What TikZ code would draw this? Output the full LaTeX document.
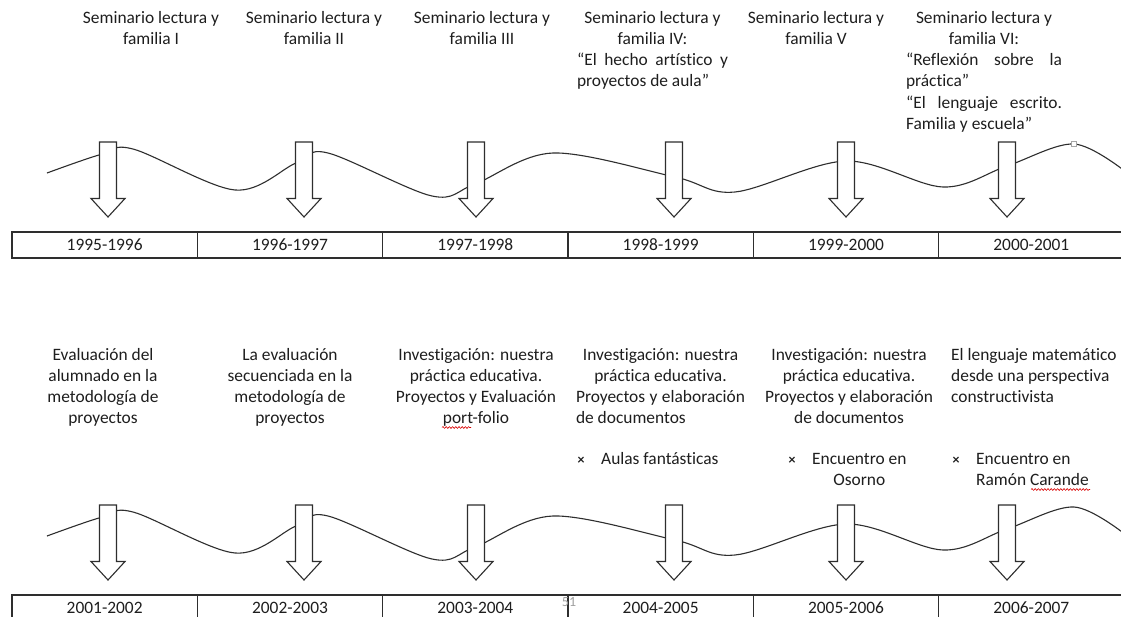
\documentclass[tikz,border=0pt]{standalone}
\usepackage{fontspec}
\setmainfont{Carlito}[Ligatures={TeX,NoCommon}]
\usetikzlibrary{decorations.pathmorphing}
\definecolor{ink}{HTML}{1E1E1E}
\definecolor{lin}{HTML}{2E2E2E}
\newcommand\xbul{\makebox[40pt][c]{\fontsize{14}{14}\selectfont\bfseries ×}}
\begin{document}
\begin{tikzpicture}[x=1pt,y=-1pt,
  txt/.style={font=\fontsize{17.4}{21.2}\selectfont, text=ink, inner sep=0pt, align=center},
  txtb/.style={font=\fontsize{17.4}{21.2}\selectfont, text=ink, inner sep=0pt},
  cell/.style={draw=lin, line width=1.3pt, minimum width=185.33pt, minimum height=26pt, inner sep=0pt, font=\fontsize{17.4}{21.2}\selectfont, text=ink},
  wavecurve/.style={draw=lin, line width=1.1pt},
  arrowline/.style={draw=lin, fill=white, line width=1.1pt, line join=miter},
  wavy/.style={draw=red!85!black, line width=0.6pt, decorate, decoration={snake, amplitude=0.9pt, segment length=3.2pt}},
  darrow/.pic={\path[arrowline] (-8.5,0) -- (-8.5,56.5) -- (-17,56.5) -- (0,75) -- (17,56.5) -- (8.5,56.5) -- (8.5,0) -- cycle;}
]
\useasboundingbox (0,0) rectangle (1121,616);
\clip (0,0) rectangle (1121,616);
\fill[white] (0,0) rectangle (1121,616);

% ---------- top row ----------
\draw[wavecurve] plot[smooth,tension=0.55] coordinates {(47,173) (99,155) (133,149) (235,190) (296,163) (328,153) (432,196) (475,184) (553,153) (675,177) (735,192) (846,161) (943,187) (1007,166) (1074,144) (1126,172)};
\node[draw=gray!70, fill=white, line width=0.5pt, minimum size=5pt, inner sep=0pt] (sq) at (1074,144) {};
\foreach \ax in {108,304,476,674,846,1007} { \pic at (\ax,142) {darrow}; }

\node[cell] (c1) at (104.67,245) {1995-1996};
\node[cell] (c2) at (290,245) {1996-1997};
\node[cell] (c3) at (475.33,245) {1997-1998};
\node[cell] (c4) at (660.67,245) {1998-1999};
\node[cell] (c5) at (846,245) {1999-2000};
\node[cell] (c6) at (1031.33,245) {2000-2001};

\node[txt, anchor=north] (t1) at (151,8.2) {\strut Seminario lectura y\\familia I};
\node[txt, anchor=north] (t2) at (314,8.2) {\strut Seminario lectura y\\familia II};
\node[txt, anchor=north] (t3) at (482,8.2) {\strut Seminario lectura y\\familia III};
\node[txt, anchor=north] (t4) at (652.5,8.2) {\strut Seminario lectura y\\familia IV:\\\makebox[151pt][s]{“El hecho artístico y}\\\makebox[151pt][l]{proyectos de aula”}};
\node[txt, anchor=north] (t5) at (816,8.2) {\strut Seminario lectura y\\familia V};
\node[txt, anchor=north] (t6) at (984,8.2) {\strut Seminario lectura y\\familia VI:\\\makebox[156pt][s]{“Reflexión sobre la}\\\makebox[156pt][l]{práctica”}\\\makebox[156pt][s]{“El lenguaje escrito.}\\\makebox[156pt][l]{Familia y escuela”}};

% ---------- bottom row ----------
\begin{scope}[shift={(0,363)}]
\draw[wavecurve] plot[smooth,tension=0.55] coordinates {(47,173) (99,155) (133,149) (235,190) (296,163) (328,153) (432,196) (475,184) (553,153) (675,177) (735,192) (846,161) (943,187) (1007,166) (1074,144) (1126,172)};
\foreach \ax in {108,304,476,674,846,1007} { \pic at (\ax,142) {darrow}; }
\end{scope}

\node[cell] (d1) at (104.67,608) {2001-2002};
\node[cell] (d2) at (290,608) {2002-2003};
\node[cell] (d3) at (475.33,608) {2003-2004};
\node[cell] (d4) at (660.67,608) {2004-2005};
\node[cell] (d5) at (846,608) {2005-2006};
\node[cell] (d6) at (1031.33,608) {2006-2007};
\node[font=\fontsize{14}{14}\selectfont, text=gray!75, inner sep=0pt] (pg) at (569,602) {51};

\node[txt, anchor=north] (b1) at (103,345.2) {\strut Evaluación del\\alumnado en la\\metodología de\\proyectos};
\node[txt, anchor=north] (b2) at (290,345.2) {\strut La evaluación\\secuenciada en la\\metodología de\\proyectos};
\node[txt, anchor=north] (b3) at (476,345.2) {\strut Investigación: nuestra\\práctica educativa.\\Proyectos y Evaluación\\port-folio};
\node[txt, anchor=north] (b4) at (660.5,345.2) {\strut Investigación: nuestra\\práctica educativa.\\\makebox[169pt][s]{Proyectos y elaboración}\\\makebox[169pt][l]{de documentos}};
\node[txt, anchor=north] (b5) at (849,345.2) {\strut Investigación: nuestra\\práctica educativa.\\Proyectos y elaboración\\de documentos};
\node[txt, anchor=north west, align=left] (b6) at (951,345.2) {\strut El lenguaje matemático\\desde una perspectiva\\constructivista};

\node[txtb, anchor=north west] (u1) at (561,449.2) {\strut\xbul Aulas fantásticas};
\node[txtb, anchor=north west] (u2) at (772,449.2) {\strut\xbul\begin{tabular}[t]{@{}c@{}}Encuentro en\\Osorno\end{tabular}};
\node[txtb, anchor=north west] (u3) at (936,449.2) {\strut\xbul\begin{tabular}[t]{@{}l@{}}Encuentro en\\Ramón Carande\end{tabular}};

\draw[wavy] (442,427.5) -- (471,427.5);
\draw[wavy] (1031,489.5) -- (1090,489.5);
\end{tikzpicture}
\end{document}
